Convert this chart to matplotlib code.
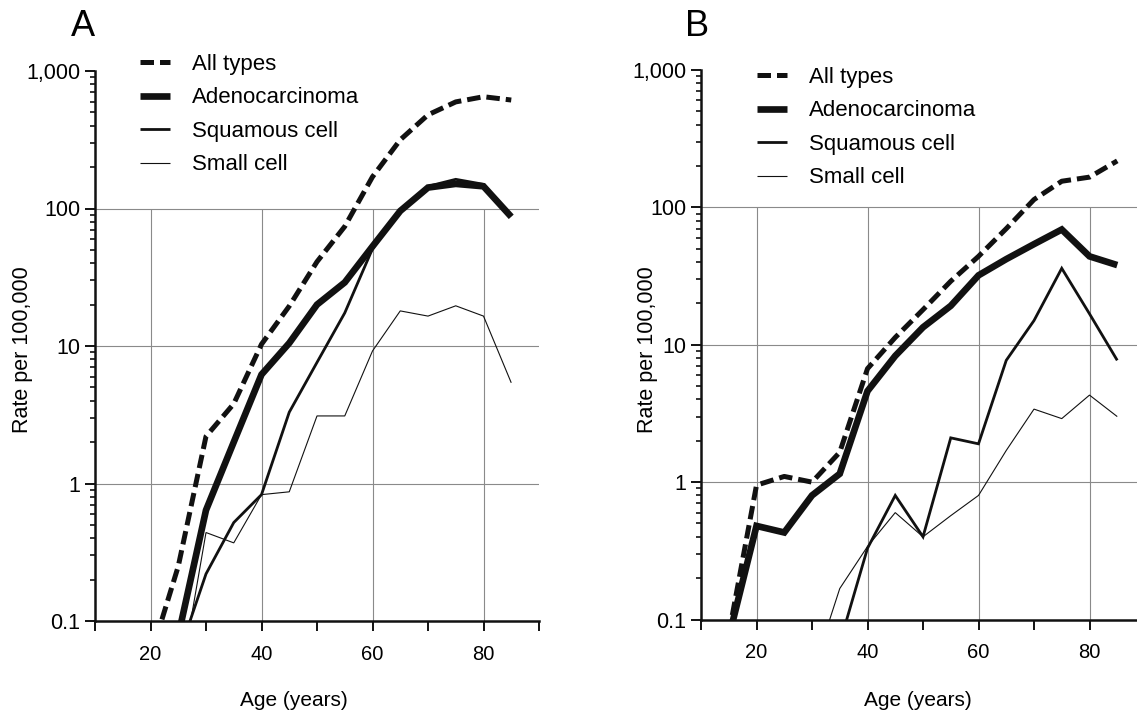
import numpy as np
import matplotlib
matplotlib.use("Agg")
import matplotlib.pyplot as plt
from matplotlib.ticker import FixedLocator, FixedFormatter, LogLocator, NullFormatter

plt.rcParams['font.family'] = ['Liberation Sans', 'DejaVu Sans']

nan = np.nan

# panel A (ages 20..85)
ages_a = [20, 25, 30, 35, 40, 45, 50, 55, 60, 65, 70, 75, 80, 85]
all_a = [0.055, 0.25, 2.2, 3.8, 10.3, 19.5, 41, 74, 170, 316, 480, 596, 650, 615]
adeno_a = [nan, 0.078, 0.64, 2.0, 6.2, 10.5, 20, 29, 53, 96, 142, 151, 145, 87]
squam_a = [nan, 0.056, 0.22, 0.52, 0.83, 3.3, 7.6, 17.4, 51, 96, 145, 163, 150, 88]
small_a = [nan, 0.03, 0.44, 0.37, 0.83, 0.87, 3.1, 3.1, 9.2, 18, 16.5, 19.6, 16.5, 5.4]

# panel B (ages 15..85)
ages_b = [15, 20, 25, 30, 35, 40, 45, 50, 55, 60, 65, 70, 75, 80, 85]
all_b = [0.078, 0.95, 1.1, 1.0, 1.65, 6.7, 11.3, 18, 29, 44, 70, 114, 155, 166, 218]
adeno_b = [0.074, 0.48, 0.43, 0.8, 1.15, 4.6, 8.3, 13.4, 19.2, 32, 42, 54, 69, 44, 38]
squam_b = [nan, nan, nan, nan, 0.067, 0.33, 0.8, 0.4, 2.1, 1.9, 7.7, 15, 36, 16.8, 7.7]
small_b = [nan, nan, nan, 0.04, 0.168, 0.34, 0.6, 0.4, 0.57, 0.8, 1.7, 3.4, 2.9, 4.3, 3.0]

labels = ['All types', 'Adenocarcinoma', 'Squamous cell', 'Small cell']
y_ticks = [0.1, 1, 10, 100, 1000]
y_ticklabels = ['0.1', '1', '10', '100', '1,000']
x_ticks = [10, 20, 30, 40, 50, 60, 70, 80, 90]
x_ticklabels = ['', '20', '', '40', '', '60', '', '80', '']

W, H = 1137, 712
fig = plt.figure(figsize=(W / 100, H / 100), dpi=100)

def fx(x):
    return x / W

def fy(y):
    return 1 - y / H

ink = '#111111'
styles = [
    dict(lw=3.6, ls=(0, (2.7, 1.2)), dash_capstyle='butt'),
    dict(lw=4.8, solid_capstyle='butt'),
    dict(lw=2.0, solid_capstyle='butt'),
    dict(lw=0.8, solid_capstyle='butt'),
]

def panel(rect, ages, series, letter, letter_xy, leg_xy, xlab_x, ylab_x):
    ax = fig.add_axes(rect)
    ax.set_yscale('log')
    ax.set_xlim(10, 90)
    ax.set_ylim(0.1, 1000)
    for s in ['top', 'right']:
        ax.spines[s].set_visible(False)
    for s in ['left', 'bottom']:
        ax.spines[s].set_linewidth(1.8)
        ax.spines[s].set_color(ink)
        ax.spines[s].set_zorder(5)
    # grid box
    ax.hlines([1, 10, 100], 10, 90, color='#8a8a8a', lw=0.8, zorder=1)
    ax.vlines([20, 40, 60, 80], 0.1, 100, color='#8a8a8a', lw=0.8, zorder=1)
    handles = []
    for vals, st, lab in zip(series, styles, labels):
        h, = ax.plot(ages, vals, color=ink, solid_joinstyle='miter',
                     label=lab, zorder=3, **st)
        handles.append(h)
    ax.yaxis.set_major_locator(FixedLocator(y_ticks))
    ax.yaxis.set_major_formatter(FixedFormatter(y_ticklabels))
    ax.yaxis.set_minor_locator(LogLocator(base=10, subs=np.arange(2, 10)))
    ax.yaxis.set_minor_formatter(NullFormatter())
    ax.xaxis.set_major_locator(FixedLocator(x_ticks))
    ax.xaxis.set_major_formatter(FixedFormatter(x_ticklabels))
    ax.tick_params(which='major', length=7, width=1.4, color=ink)
    ax.tick_params(which='minor', length=3.5, width=1.2, color=ink)
    ax.tick_params(axis='y', labelsize=15.5, pad=3.5)
    ax.tick_params(axis='x', labelsize=14.5, pad=10)
    fig.text(fx(xlab_x), fy(700), 'Age (years)', ha='center', va='center', fontsize=15)
    fig.text(fx(ylab_x), fy(350), 'Rate per 100,000', ha='center', va='center',
             rotation=90, fontsize=15.5)
    fig.text(fx(letter_xy[0]), fy(letter_xy[1]), letter, ha='left', va='center', fontsize=26)
    ax.legend(handles=handles, loc='upper left', bbox_to_anchor=(fx(leg_xy[0]), fy(leg_xy[1])),
              bbox_transform=fig.transFigure, frameon=False, fontsize=16,
              handlelength=1.35, handletextpad=1.0, labelspacing=0.56,
              borderpad=0, borderaxespad=0)
    return ax

axw = 444 / W
panel([fx(95), fy(621), axw, (621 - 71) / H], ages_a,
      [all_a, adeno_a, squam_a, small_a], 'A', (71, 26), (140, 54), 294, 23)
panel([fx(701), fy(619.5), axw, (619.5 - 70) / H], ages_b,
      [all_b, adeno_b, squam_b, small_b], 'B', (685, 26), (757, 67), 918, 647)

fig.savefig('out.png', dpi=100)
